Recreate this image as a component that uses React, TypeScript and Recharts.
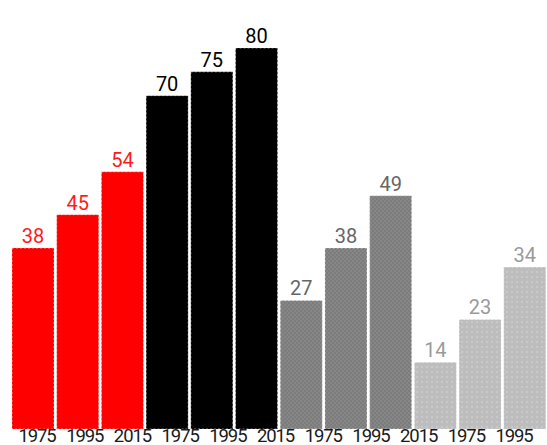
import React from 'react';
import { BarChart, Bar, XAxis, YAxis, Cell, LabelList } from 'recharts';

const barYears = ['1975', '1995', '2015', '1975', '1995', '2015', '1975', '1995', '2015', '1975', '1995', '2015'];
const values = [38, 45, 54, 70, 75, 80, 27, 38, 49, 14, 23, 34];
const groups = ['red', 'red', 'red', 'black', 'black', 'black', 'grey', 'grey', 'grey', 'light', 'light', 'light'];
const tickLabels = ['1975', '1995', '2015', '1975', '1995', '2015', '1975', '1995', '2015', '1975', '1995'];
const tickPositions = [0.5, 1.5, 2.5, 3.5, 4.5, 5.5, 6.5, 7.5, 8.5, 9.5, 10.5];

const fills: Record<string, string> = {
  red: '#ff0000',
  black: '#000000',
  grey: 'url(#patGrey)',
  light: 'url(#patLight)',
};
const labelColors: Record<string, string> = {
  red: '#ff1a1a',
  black: '#000000',
  grey: '#666666',
  light: '#9a9a9a',
};

const data = values.map((v, i) => ({ key: `${barYears[i]}-${i}`, year: barYears[i], value: v, group: groups[i] }));

const ValueLabel = (props: any) => {
  const { x, y, width, value, index } = props;
  const color = labelColors[groups[index]];
  return (
    <text
      x={Number(x) + Number(width) / 2}
      y={Number(y) - 5}
      textAnchor="middle"
      fill={color}
      fontFamily="Roboto"
      fontSize={20}
    >
      {value}
    </text>
  );
};

export default function App() {
  return (
    <div style={{ position: 'absolute', left: 0, top: 0 }}>
      <BarChart
        width={547}
        height={445}
        data={data}
        margin={{ top: 48, right: 0, bottom: 0, left: 10.5 }}
        barCategoryGap={1.5}
      >
        <defs>
          <pattern id="patGrey" width="4" height="4" patternUnits="userSpaceOnUse">
            <rect width="4" height="4" fill="#7c7c7c" />
            <rect width="2" height="2" fill="#868686" />
            <rect x="2" y="2" width="2" height="2" fill="#868686" />
          </pattern>
          <pattern id="patLight" width="5" height="5" patternUnits="userSpaceOnUse">
            <rect width="5" height="5" fill="#bdbdbd" />
            <rect x="1" y="1" width="2" height="2" fill="#c9c9c9" />
          </pattern>
        </defs>
        <XAxis xAxisId="main" dataKey="key" hide />
        <XAxis
          xAxisId="lbl"
          type="number"
          domain={[0, 11]}
          allowDataOverflow
          ticks={tickPositions}
          interval={0}
          tickFormatter={(v: number) => tickLabels[Math.floor(v)]}
          padding={{ left: 2.7, right: 9.1 }}
          height={16}
          tickSize={0}
          tickMargin={0}
          axisLine={false}
          tickLine={false}
          tick={{ fill: '#1a1a1a', fontFamily: 'Roboto', fontSize: 18.5, letterSpacing: -1.1 }}
        />
        <YAxis hide domain={[0, 80]} />
        <Bar
          xAxisId="main"
          dataKey="value"
          isAnimationActive={false}
          stroke="#ffffff"
          strokeOpacity={0.5}
          strokeDasharray="2 2"
          strokeWidth={1}
        >
          {data.map((d, i) => (
            <Cell key={i} fill={fills[d.group]} />
          ))}
          <LabelList dataKey="value" content={ValueLabel} />
        </Bar>
      </BarChart>
    </div>
  );
}
